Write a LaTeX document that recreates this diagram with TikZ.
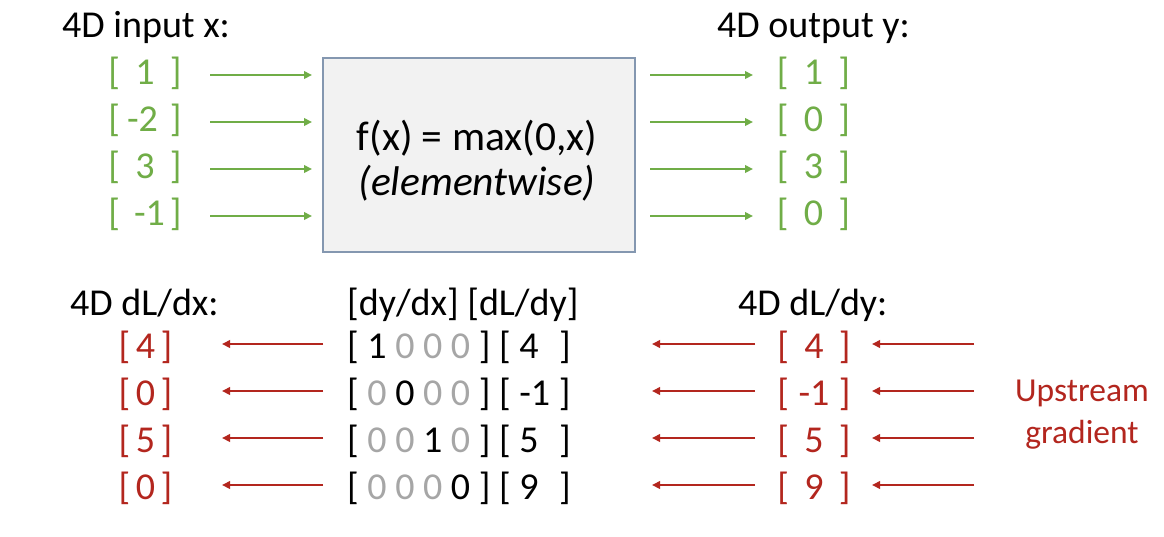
\documentclass[tikz,border=0pt]{standalone}
\usepackage{fontspec}
\setmainfont{Carlito}
\usetikzlibrary{arrows.meta}
\definecolor{gr}{HTML}{70AD47}
\definecolor{rd}{HTML}{B3261E}
\definecolor{zg}{HTML}{A6A6A6}
\definecolor{boxfill}{HTML}{F2F2F2}
\definecolor{boxline}{HTML}{8497B0}
\newcommand{\gz}{\textcolor{zg}{0}}
\newcommand{\vb}[1]{[\makebox[50pt]{#1}]}
\newcommand{\pd}[1]{\makebox[0.82em][l]{#1}}
\begin{document}
\begin{tikzpicture}[x=1pt,y=-1pt,
  big/.style={font=\fontsize{38}{46}\selectfont, inner sep=0pt, anchor=base},
  hdr/.style={big, anchor=base west},
  boxtext/.style={font=\fontsize{41.5}{50}\selectfont, inner sep=0pt, anchor=base},
  uptext/.style={font=\fontsize{33.5}{40}\selectfont, text=rd, inner sep=0pt, anchor=base},
  garr/.style={draw=gr, line width=2.3pt, -{Triangle[length=8pt,width=7.5pt]}},
  rarr/.style={draw=rd, line width=2.3pt, -{Triangle[length=8pt,width=7.5pt]}}]
\fill[white] (0,0) rectangle (1164,536);
\useasboundingbox (0,0) rectangle (1164,536);
% headers
\node[hdr] (hin) at (62,37) {4D input x:};
\node[hdr] (hout) at (717,37) {4D output y:};
\node[hdr] (hdx) at (70,315) {4D dL/dx:};
\node[hdr] (hmat) at (347,315) {[dy/dx] [dL/dy]};
\node[hdr] (hdy) at (738,315) {4D dL/dy:};
% function box
\node[draw=boxline, fill=boxfill, line width=1.2pt, minimum width=312pt, minimum height=194pt, inner sep=0pt] (box) at (479,155) {};
\node[boxtext] (f1) at (477,150) {f(x) = max(0,x)};
\node[boxtext] (f2) at (477,195) {\textit{(elementwise)}};
% x-coordinates of arrow ends
\coordinate (gx1) at (210,0);
\coordinate (gx2) at (312,0);
\coordinate (gx3) at (650,0);
\coordinate (gx4) at (753,0);
\coordinate (rx1) at (323,0);
\coordinate (rx2) at (222,0);
\coordinate (rx3) at (755,0);
\coordinate (rx4) at (652,0);
\coordinate (rx5) at (974,0);
\coordinate (rx6) at (872,0);
% forward pass
\foreach \v/\w/\y [count=\i] in {1/1/84, {-2\hspace{5pt}}/0/131, 3/3/178, {\hfill-1\hspace{5pt}}/0/225} {
  \node[big, text=gr] (in\i) at (145,\y) {\vb{\v}};
  \node[big, text=gr] (out\i) at (813.5,\y) {\vb{\w}};
  \coordinate (gy\i) at ([yshift=9pt]in\i.base);
  \draw[garr] (gy\i -| gx1) -- (gy\i -| gx2);
  \draw[garr] (gy\i -| gx3) -- (gy\i -| gx4);
}
% backward pass
\foreach \a/\b/\y [count=\i] in {4/4/358, 0/-1/405, 5/5/452, 0/9/499} {
  \node[big, text=rd] (dx\i) at (145.5,\y) {[\hspace{5.5pt}\a\hspace{5.5pt}]};
  \node[big, text=rd] (dy\i) at (814,\y) {\vb{\b}};
  \coordinate (ry\i) at ([yshift=14pt]dx\i.base);
  \draw[rarr] (ry\i -| rx1) -- (ry\i -| rx2);
  \draw[rarr] (ry\i -| rx3) -- (ry\i -| rx4);
  \draw[rarr] (ry\i -| rx5) -- (ry\i -| rx6);
}
\node[big, anchor=base west] (m1) at (347,358) {[ 1 \gz{} \gz{} \gz{} ] [ \pd{4} ]};
\node[big, anchor=base west] (m2) at (347,405) {[ \gz{} 0 \gz{} \gz{} ] [ -1 ]};
\node[big, anchor=base west] (m3) at (347,452) {[ \gz{} \gz{} 1 \gz{} ] [ \pd{5} ]};
\node[big, anchor=base west] (m4) at (347,499) {[ \gz{} \gz{} \gz{} 0 ] [ \pd{9} ]};
% upstream label
\node[uptext] (up1) at (1082,401) {Upstream};
\node[uptext] (up2) at (1082,443) {gradient};
\end{tikzpicture}
\end{document}
